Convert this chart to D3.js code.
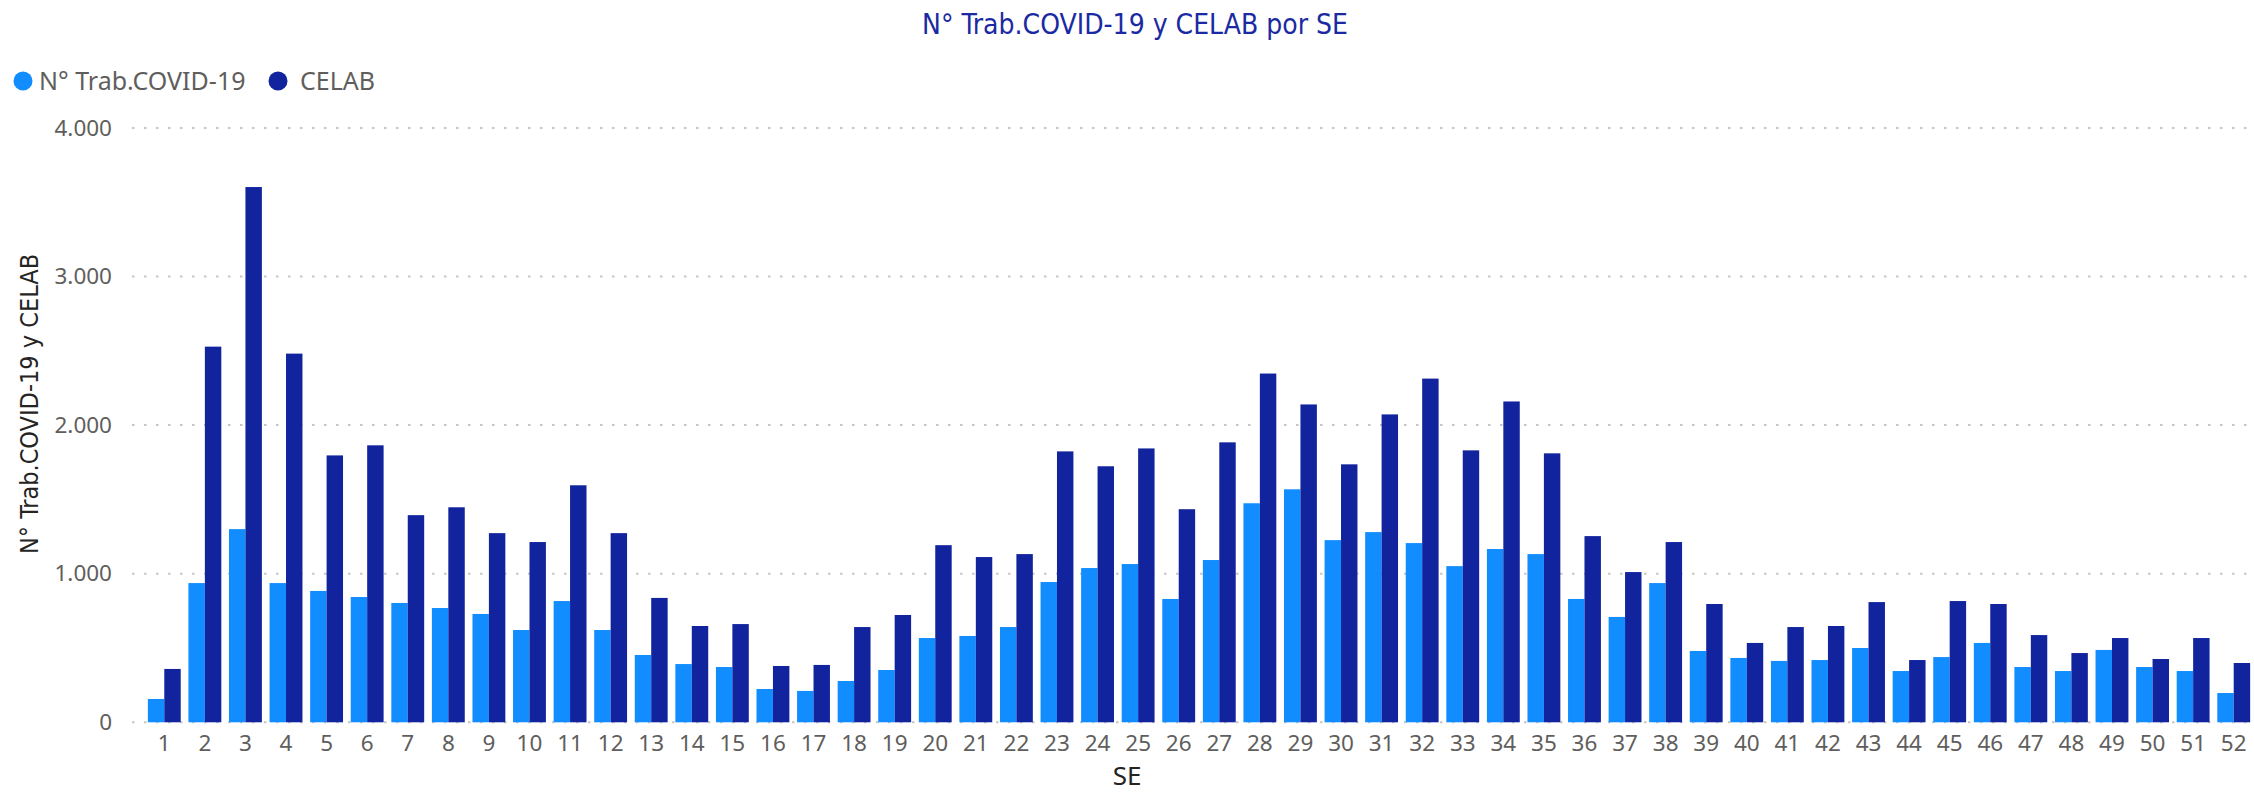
<!DOCTYPE html>
<html>
<head>
<meta charset="utf-8">
<script src="https://cdn.jsdelivr.net/npm/d3@7"></script>
<style>
  body { margin: 0; background: #fff; }
  .tick-label { font-family: "Noto Sans", "Open Sans", sans-serif; font-size: 22.5px; fill: #605E5C; }
</style>
</head>
<body>
<div id="chart"></div>
<script>
// Semanas epidemiologicas
const semanas = d3.range(1, 53).map(String);

// N° Trab.COVID-19 por SE
const trabCovid = [157, 937, 1300, 937, 884, 843, 803, 769, 729, 621,
  816, 621, 453, 392, 372, 224, 211, 278, 352, 567,
  581, 641, 944, 1038, 1065, 830, 1092, 1474, 1568, 1226,
  1280, 1206, 1051, 1166, 1132, 830, 709, 937, 480, 433,
  413, 419, 500, 345, 439, 534, 372, 345, 487, 372,
  345, 197];

// CELAB por SE
const celab = [359, 2528, 3602, 2481, 1796, 1864, 1394, 1447, 1273, 1213,
  1595, 1273, 837, 648, 661, 379, 386, 641, 722, 1192,
  1112, 1132, 1823, 1723, 1843, 1434, 1884, 2347, 2139, 1736,
  2072, 2313, 1830, 2159, 1810, 1253, 1011, 1213, 796, 534,
  641, 648, 809, 419, 816, 796, 587, 466, 567, 426,
  567, 399];

const yTicks = [0, 1000, 2000, 3000, 4000];
const seriesNames = ['N° Trab.COVID-19', 'CELAB'];
const colors = ['#118DFF', '#12239E'];

const W = 2254, H = 793;
const svg = d3.select("#chart").append("svg")
    .attr("width", W)
    .attr("height", H);

const x = d3.scaleBand()
    .domain(semanas)
    .range([144, 2254])
    .paddingInner(0.19)
    .paddingOuter(0.095);

const xSub = d3.scaleBand()
    .domain([0, 1])
    .range([0, x.bandwidth()]);

const y = d3.scaleLinear()
    .domain([0, 4000])
    .range([722.3, 127.9]);

// gridlines
svg.append("g")
    .selectAll("line")
    .data(yTicks)
    .join("line")
    .attr("x1", 132)
    .attr("x2", 2254)
    .attr("y1", d => y(d))
    .attr("y2", d => y(d))
    .attr("stroke", "#C8C6C4")
    .attr("stroke-width", 2)
    .attr("stroke-dasharray", "2.5,9.5");

// y axis labels
const fmt = d => d3.format(",")(d).replace(/,/g, ".");
svg.append("g")
    .attr("transform", "translate(112,0)")
    .call(d3.axisLeft(y).tickValues(yTicks).tickFormat(fmt).tickSize(0).tickPadding(0))
    .call(g => g.select(".domain").remove())
    .selectAll("text")
    .attr("class", "tick-label")
    .attr("font-family", null)
    .attr("font-size", null);

// bars
const rows = semanas.map((s, i) => ({ se: s, vals: [trabCovid[i], celab[i]] }));
svg.append("g")
    .selectAll("g")
    .data(rows)
    .join("g")
    .attr("transform", d => `translate(${x(d.se)},0)`)
    .selectAll("rect")
    .data(d => d.vals.map((v, k) => ({ v, k })))
    .join("rect")
    .attr("x", d => xSub(d.k))
    .attr("width", xSub.bandwidth())
    .attr("y", d => y(d.v))
    .attr("height", d => y(0) - y(d.v))
    .attr("fill", d => colors[d.k]);

// x axis
svg.append("g")
    .attr("transform", `translate(0,${y(0)})`)
    .call(d3.axisBottom(x).tickSize(0).tickPadding(13))
    .call(g => g.select(".domain").remove())
    .selectAll("text")
    .attr("class", "tick-label")
    .attr("font-family", null)
    .attr("font-size", null);

// axis titles
svg.append("text")
    .attr("x", 1127)
    .attr("y", 785)
    .attr("text-anchor", "middle")
    .style("font-family", "'Noto Sans', sans-serif")
    .style("font-size", "26px")
    .style("fill", "#252423")
    .text("SE");

svg.append("text")
    .attr("transform", "translate(38,404) rotate(-90)")
    .attr("text-anchor", "middle")
    .style("font-family", "'DejaVu Sans Condensed', 'DejaVu Sans', sans-serif")
    .style("font-size", "25px")
    .style("fill", "#252423")
    .text("N° Trab.COVID-19 y CELAB");

// title
svg.append("text")
    .attr("x", 1135)
    .attr("y", 34)
    .attr("text-anchor", "middle")
    .style("font-family", "'DejaVu Sans Condensed', 'DejaVu Sans', sans-serif")
    .style("font-size", "28px")
    .style("fill", "#1B2AA3")
    .text("N° Trab.COVID-19 y CELAB por SE");

// legend
const legend = svg.append("g");
const legX = [23, 278];
seriesNames.forEach((name, i) => {
  legend.append("circle")
      .attr("cx", legX[i])
      .attr("cy", 81)
      .attr("r", 9.5)
      .attr("fill", colors[i]);
  legend.append("text")
      .attr("x", legX[i] + (i === 0 ? 16 : 22))
      .attr("y", 90)
      .style("font-family", "'Noto Sans', sans-serif")
      .style("font-size", "25px")
      .style("fill", "#605E5C")
      .text(name);
});
</script>
</body>
</html>
